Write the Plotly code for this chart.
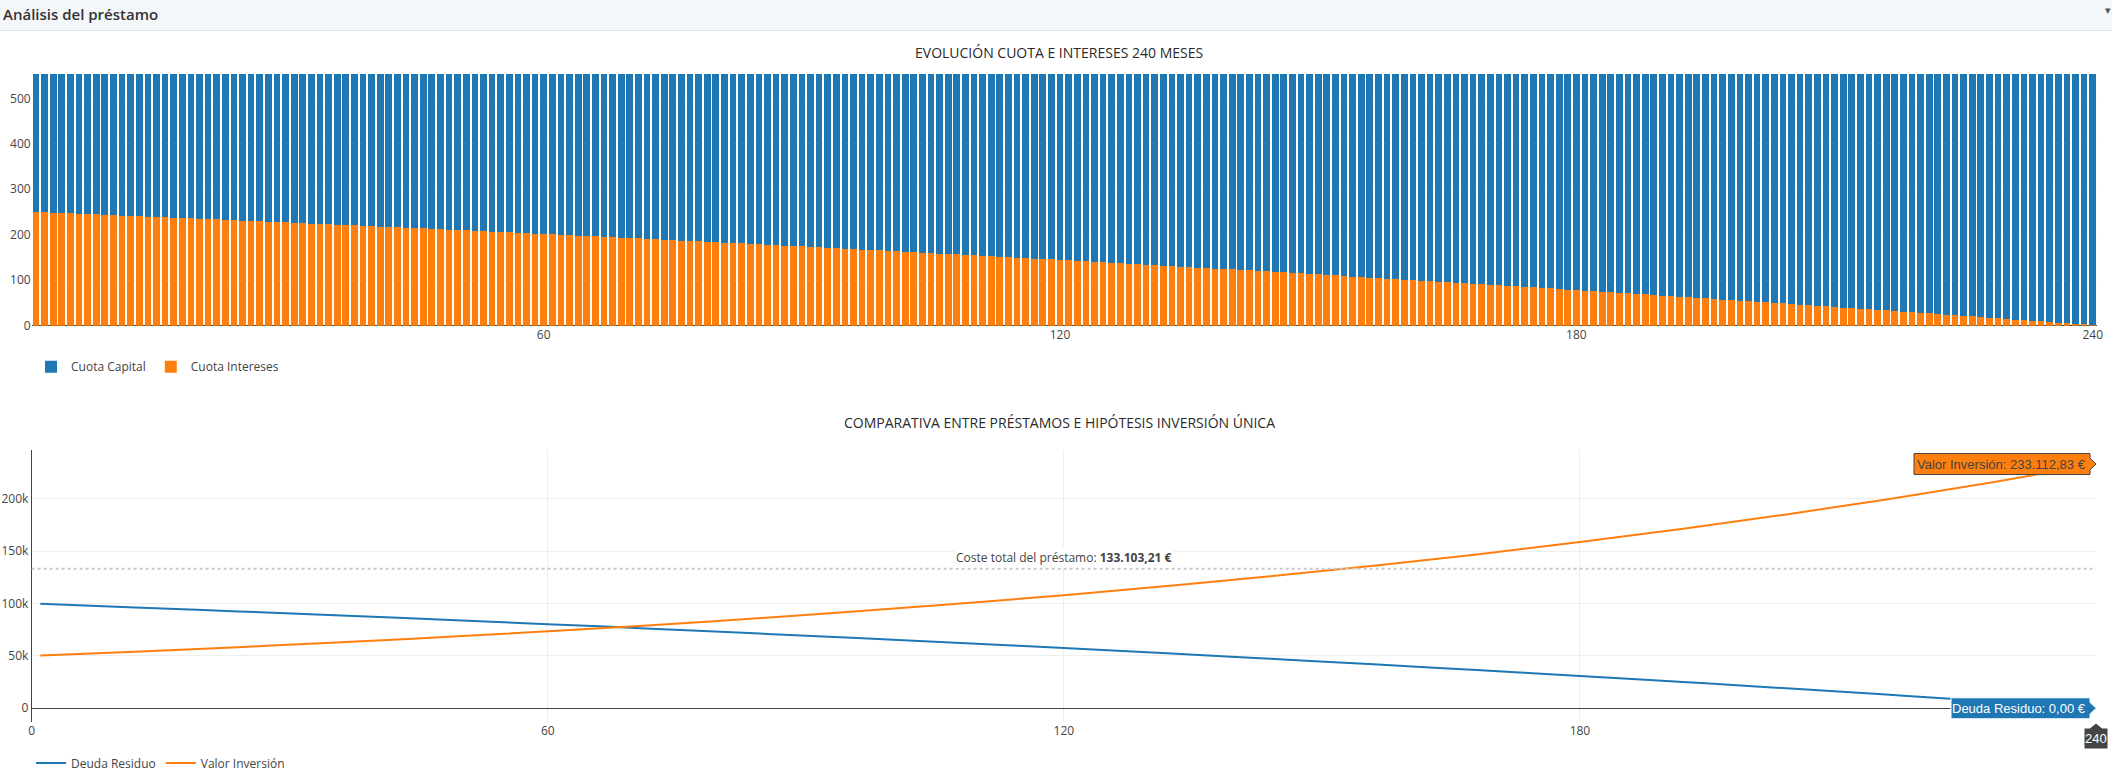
import plotly.graph_objects as go

# ---------------- DATA ----------------
meses = list(range(1, 241))

cuota_intereses = [
    250.0, 249.2, 248.5, 247.7, 246.9, 246.1, 245.4, 244.6, 243.8, 243.1, 242.3, 241.5,
    240.7, 239.9, 239.1, 238.3, 237.6, 236.8, 236.0, 235.2, 234.4, 233.6, 232.8, 232.0,
    231.2, 230.4, 229.5, 228.7, 227.9, 227.1, 226.3, 225.5, 224.6, 223.8, 223.0, 222.2,
    221.4, 220.5, 219.7, 218.8, 218.0, 217.1, 216.3, 215.4, 214.6, 213.8, 212.9, 212.1,
    211.2, 210.4, 209.5, 208.6, 207.7, 206.9, 206.0, 205.1, 204.3, 203.4, 202.5, 201.6,
    200.8, 199.9, 199.0, 198.1, 197.2, 196.3, 195.4, 194.5, 193.6, 192.7, 191.8, 190.9,
    190.0, 189.1, 188.2, 187.2, 186.3, 185.4, 184.5, 183.5, 182.6, 181.7, 180.8, 179.8,
    178.9, 178.0, 177.0, 176.1, 175.1, 174.2, 173.2, 172.3, 171.3, 170.3, 169.4, 168.4,
    167.5, 166.5, 165.5, 164.5, 163.6, 162.6, 161.6, 160.6, 159.6, 158.7, 157.7, 156.7,
    155.7, 154.7, 153.7, 152.7, 151.7, 150.7, 149.7, 148.6, 147.6, 146.6, 145.6, 144.6,
    143.6, 142.5, 141.5, 140.5, 139.4, 138.4, 137.3, 136.3, 135.2, 134.2, 133.2, 132.1,
    131.1, 130.0, 128.9, 127.9, 126.8, 125.7, 124.6, 123.6, 122.5, 121.4, 120.4, 119.3,
    118.2, 117.1, 116.0, 114.9, 113.8, 112.7, 111.6, 110.5, 109.4, 108.2, 107.1, 106.0,
    104.9, 103.8, 102.6, 101.5, 100.4, 99.2, 98.1, 96.9, 95.8, 94.7, 93.5, 92.4,
    91.3, 90.1, 88.9, 87.7, 86.6, 85.4, 84.2, 83.0, 81.9, 80.7, 79.5, 78.3,
    77.2, 76.0, 74.7, 73.5, 72.3, 71.1, 69.9, 68.7, 67.5, 66.3, 65.1, 63.9,
    62.6, 61.4, 60.1, 58.9, 57.6, 56.4, 55.2, 53.9, 52.7, 51.4, 50.2, 48.9,
    47.7, 46.4, 45.1, 43.8, 42.5, 41.2, 40.0, 38.7, 37.4, 36.1, 34.8, 33.5,
    32.3, 30.9, 29.6, 28.3, 26.9, 25.6, 24.3, 23.0, 21.7, 20.3, 19.0, 17.7,
    16.4, 15.0, 13.6, 12.3, 10.9, 9.6, 8.2, 6.8, 5.5, 4.1, 2.8, 1.4,
]

cuota_capital = [
    304.6, 305.4, 306.1, 306.9, 307.7, 308.5, 309.2, 310.0, 310.8, 311.5, 312.3, 313.1,
    313.9, 314.7, 315.5, 316.3, 317.0, 317.8, 318.6, 319.4, 320.2, 321.0, 321.8, 322.6,
    323.4, 324.2, 325.1, 325.9, 326.7, 327.5, 328.3, 329.1, 330.0, 330.8, 331.6, 332.4,
    333.2, 334.1, 334.9, 335.8, 336.6, 337.5, 338.3, 339.2, 340.0, 340.8, 341.7, 342.5,
    343.4, 344.2, 345.1, 346.0, 346.9, 347.7, 348.6, 349.5, 350.3, 351.2, 352.1, 353.0,
    353.8, 354.7, 355.6, 356.5, 357.4, 358.3, 359.2, 360.1, 361.0, 361.9, 362.8, 363.7,
    364.6, 365.5, 366.4, 367.4, 368.3, 369.2, 370.1, 371.1, 372.0, 372.9, 373.8, 374.8,
    375.7, 376.6, 377.6, 378.5, 379.5, 380.4, 381.4, 382.3, 383.3, 384.3, 385.2, 386.2,
    387.1, 388.1, 389.1, 390.1, 391.0, 392.0, 393.0, 394.0, 395.0, 395.9, 396.9, 397.9,
    398.9, 399.9, 400.9, 401.9, 402.9, 403.9, 404.9, 406.0, 407.0, 408.0, 409.0, 410.0,
    411.0, 412.1, 413.1, 414.1, 415.2, 416.2, 417.3, 418.3, 419.4, 420.4, 421.4, 422.5,
    423.5, 424.6, 425.7, 426.7, 427.8, 428.9, 430.0, 431.0, 432.1, 433.2, 434.2, 435.3,
    436.4, 437.5, 438.6, 439.7, 440.8, 441.9, 443.0, 444.1, 445.2, 446.4, 447.5, 448.6,
    449.7, 450.8, 452.0, 453.1, 454.2, 455.4, 456.5, 457.7, 458.8, 459.9, 461.1, 462.2,
    463.3, 464.5, 465.7, 466.9, 468.0, 469.2, 470.4, 471.6, 472.7, 473.9, 475.1, 476.3,
    477.4, 478.6, 479.9, 481.1, 482.3, 483.5, 484.7, 485.9, 487.1, 488.3, 489.5, 490.7,
    492.0, 493.2, 494.5, 495.7, 497.0, 498.2, 499.4, 500.7, 501.9, 503.2, 504.4, 505.7,
    506.9, 508.2, 509.5, 510.8, 512.1, 513.4, 514.6, 515.9, 517.2, 518.5, 519.8, 521.1,
    522.3, 523.7, 525.0, 526.3, 527.7, 529.0, 530.3, 531.6, 532.9, 534.3, 535.6, 536.9,
    538.2, 539.6, 541.0, 542.3, 543.7, 545.0, 546.4, 547.8, 549.1, 550.5, 551.8, 553.2,
]

meses_linea = [1, 12, 24, 36, 48, 60, 72, 84, 96, 108, 120, 132, 144, 156,
               168, 180, 192, 204, 216, 228, 240]
deuda_residuo = [99680, 96296, 92476, 88540, 84488, 80308, 76004, 71568, 66996,
                 62288, 57436, 52432, 47280, 41972, 36500, 30864, 25056, 19068,
                 12900, 6548, 0]
valor_inversion = [50322, 54000, 58321, 62987, 68026, 73468, 79346, 85694, 92550,
                   99954, 107950, 116586, 125913, 135986, 146865, 158614, 171303,
                   185008, 199809, 215793, 233112.83]

coste_total = 133103.21
valor_final = 233112.83
deuda_final = 0.00
mes_final = 240

y1_ticks = [0, 100, 200, 300, 400, 500]
x1_ticks = [60, 120, 180, 240]
x2_ticks = [0, 60, 120, 180]
y2_ticks = [0, 50000, 100000, 150000, 200000]
y2_labels = ["0", "50k", "100k", "150k", "200k"]

BLUE = "#1f77b4"
ORANGE = "#ff7f0e"

# ---------------- LAYOUT HELPERS ----------------
W, H = 2112, 774


def px(x):
    return x / W


def py(y):
    return 1 - y / H


def eur(v):
    s = f"{v:,.2f}"
    return s.replace(",", "X").replace(".", ",").replace("X", ".") + " €"


X2_DOMAIN = [px(31.7), px(2096)]
X2_RANGE = [0, 240]
Y2_DOMAIN = [py(722), py(450)]
# paper position of the last month on the lower x axis (for the x hover tag)
x2_last_paper = X2_DOMAIN[0] + (mes_final - X2_RANGE[0]) / (X2_RANGE[1] - X2_RANGE[0]) * (X2_DOMAIN[1] - X2_DOMAIN[0])

fig = go.Figure()

fig.add_trace(go.Bar(x=meses, y=cuota_intereses, name="Cuota Intereses",
                     marker=dict(color=ORANGE, line=dict(width=0)),
                     xaxis="x", yaxis="y", legend="legend", legendrank=2))
fig.add_trace(go.Bar(x=meses, y=cuota_capital, name="Cuota Capital",
                     marker=dict(color=BLUE, line=dict(width=0)),
                     xaxis="x", yaxis="y", legend="legend", legendrank=1))

fig.add_trace(go.Scatter(x=meses_linea, y=deuda_residuo, name="Deuda Residuo",
                         mode="lines", line=dict(color=BLUE, width=2, shape="spline"),
                         xaxis="x2", yaxis="y2", legend="legend2", legendrank=1))
fig.add_trace(go.Scatter(x=meses_linea, y=valor_inversion, name="Valor Inversión",
                         mode="lines", line=dict(color=ORANGE, width=2, shape="spline"),
                         xaxis="x2", yaxis="y2", legend="legend2", legendrank=2))

shapes = [
    dict(type="rect", xref="paper", yref="paper", x0=0, x1=1, y0=py(30), y1=1,
         fillcolor="#f4f7fa", line=dict(width=0), layer="below"),
    dict(type="line", xref="paper", yref="paper", x0=0, x1=1, y0=py(30.5), y1=py(30.5),
         line=dict(color="#dde3ea", width=1), layer="below"),
    dict(type="line", xref="x2 domain", yref="y2", x0=0, x1=1,
         y0=coste_total, y1=coste_total,
         line=dict(color="#c8c8c8", width=2, dash="dot"), layer="above"),
    # hover-style labels
    dict(type="path", xref="x2", yref="y2", xsizemode="pixel", ysizemode="pixel",
         xanchor=mes_final, yanchor=valor_final,
         path="M0,0L-6,6V10.5H-182V-10.5H-6V-6Z",
         fillcolor=ORANGE, line=dict(color="#444", width=1), layer="above"),
    dict(type="path", xref="x2", yref="y2", xsizemode="pixel", ysizemode="pixel",
         xanchor=mes_final, yanchor=deuda_final,
         path="M0,0L-6,6V10.5H-145V-10.5H-6V-6Z",
         fillcolor=BLUE, line=dict(color="#ffffff", width=1), layer="above"),
    dict(type="path", xref="paper", yref="paper", xsizemode="pixel", ysizemode="pixel",
         xanchor=x2_last_paper, yanchor=Y2_DOMAIN[0],
         path="M0,-1L6,-6H12V-27H-12V-6H-6Z",
         fillcolor="#444", line=dict(color="#ffffff", width=1), layer="above"),
]

annotations = [
    dict(text="Análisis del préstamo", xref="paper", yref="paper", x=px(1), y=py(14.5),
         xanchor="left", yanchor="middle", showarrow=False,
         font=dict(family="Open Sans", size=15, color="#333", weight=600)),
    dict(text="▾", xref="paper", yref="paper", x=px(2108), y=py(9),
         xanchor="center", yanchor="middle", showarrow=False,
         font=dict(size=11, color="#555")),
    dict(text="EVOLUCIÓN CUOTA E INTERESES 240 MESES", xref="paper", yref="paper",
         x=px(1059), y=py(52.5), xanchor="center", yanchor="middle", showarrow=False,
         font=dict(family="Open Sans", size=14, color="#2a2a2a")),
    dict(text="COMPARATIVA ENTRE PRÉSTAMOS E HIPÓTESIS INVERSIÓN ÚNICA", xref="paper",
         yref="paper", x=px(1059), y=py(422), xanchor="center", yanchor="middle",
         showarrow=False, font=dict(family="Open Sans", size=14, color="#2a2a2a")),
    dict(text="Coste total del préstamo: <b>" + eur(coste_total) + "</b>",
         xref="x2 domain", yref="y2", x=0.5, y=coste_total, xanchor="center",
         yanchor="bottom", yshift=1, showarrow=False, bgcolor="#ffffff",
         font=dict(family="Open Sans", size=12, color="#444")),
    dict(text="Valor Inversión: " + eur(valor_final), xref="x2", yref="y2",
         x=mes_final, y=valor_final, xanchor="right", yanchor="middle", xshift=-8,
         showarrow=False, font=dict(family="Arial, Liberation Sans", size=13, color="#444")),
    dict(text="Deuda Residuo: " + eur(deuda_final), xref="x2", yref="y2",
         x=mes_final, y=deuda_final, xanchor="right", yanchor="middle", xshift=-8,
         showarrow=False, font=dict(family="Arial, Liberation Sans", size=13, color="#ffffff")),
    dict(text=str(mes_final), xref="x2", yref="y2 domain", x=mes_final, y=0, xanchor="center",
         yanchor="middle", yshift=-16.5, showarrow=False,
         font=dict(family="Arial, Liberation Sans", size=13, color="#ffffff")),
]

fig.update_layout(
    width=W, height=H, autosize=False,
    margin=dict(l=0, r=0, t=0, b=0, pad=0, autoexpand=False),
    paper_bgcolor="#ffffff", plot_bgcolor="#ffffff",
    font=dict(family="Open Sans", size=12, color="#444"),
    barmode="stack", bargap=0.22,
    showlegend=True,
    xaxis=dict(domain=[px(31.7), px(2097)], range=[0.5, 240.5], anchor="y",
               tickvals=x1_ticks, showgrid=False, zeroline=False, showline=False,
               ticks="", automargin=False),
    yaxis=dict(domain=[py(325.7), py(73.5)], range=[0, 554.6], anchor="x",
               tickvals=y1_ticks, gridcolor="#eeeeee", zeroline=True,
               zerolinecolor="#444", zerolinewidth=1, showline=False, ticks="",
               automargin=False),
    xaxis2=dict(domain=X2_DOMAIN, range=X2_RANGE, anchor="y2",
                tickvals=x2_ticks, showgrid=True, gridcolor="#eeeeee", zeroline=False,
                showline=False, ticks="", automargin=False),
    yaxis2=dict(domain=Y2_DOMAIN, range=[-13100, 246500], anchor="x2",
                tickvals=y2_ticks, ticktext=y2_labels, gridcolor="#eeeeee",
                zeroline=True, zerolinecolor="#444", zerolinewidth=1,
                showline=True, linecolor="#444", linewidth=1, ticks="",
                automargin=False),
    legend=dict(orientation="h", x=px(31), xanchor="left", y=py(366.7),
                yanchor="middle", font=dict(size=12, color="#444"),
                bgcolor="rgba(0,0,0,0)", traceorder="normal"),
    legend2=dict(orientation="h", x=px(31), xanchor="left", y=py(763),
                 yanchor="middle", font=dict(size=12, color="#444"),
                 bgcolor="rgba(0,0,0,0)", traceorder="normal"),
    shapes=shapes,
    annotations=annotations,
    hovermode=False,
)

fig.write_html("out.html", config={"responsive": False, "displayModeBar": False})
